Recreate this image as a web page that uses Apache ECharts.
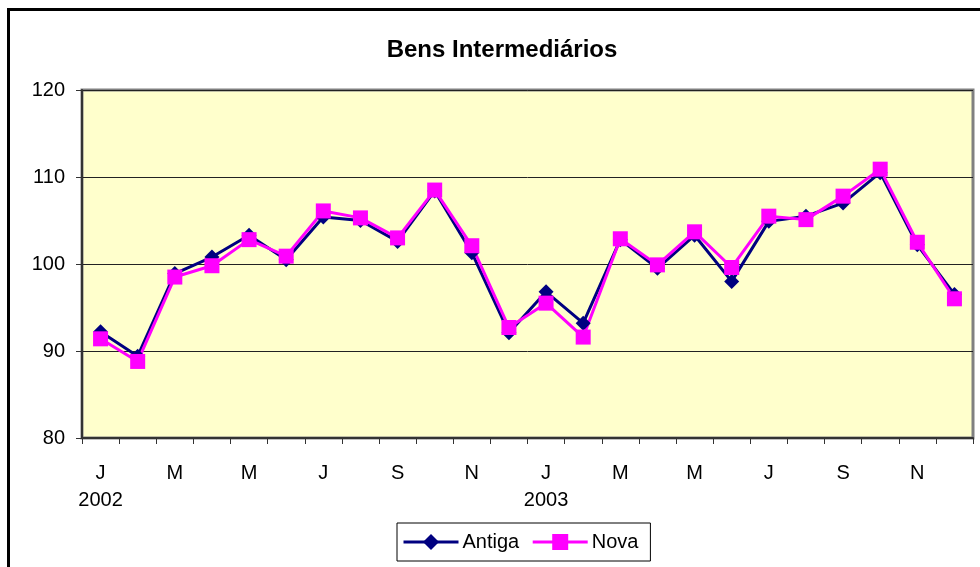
<!DOCTYPE html>
<html>
<head>
<meta charset="utf-8">
<script src="https://cdn.jsdelivr.net/npm/echarts@6/dist/echarts.min.js"></script>
<style>
  html, body { margin: 0; padding: 0; background: #fff; }
  #main { width: 980px; height: 567px; }
</style>
</head>
<body>
<div id="main"></div>
<script>
// month initials, two years
var months = ['J', 'F', 'M', 'A', 'M', 'J', 'J', 'A', 'S', 'O', 'N', 'D'];
var years = ['2002', '2003'];

var antiga = [92.2, 89.4, 98.9, 100.8, 103.3, 100.5, 105.4, 105.0, 102.6, 108.4, 101.3, 92.1,
              96.8, 93.2, 102.8, 99.5, 103.3, 98.0, 104.9, 105.5, 107.0, 110.5, 102.2, 96.5];
var nova = [91.4, 88.8, 98.5, 99.8, 102.8, 100.9, 106.1, 105.3, 103.0, 108.5, 102.1, 92.7,
            95.5, 91.6, 102.9, 99.9, 103.7, 99.6, 105.5, 105.1, 107.8, 110.9, 102.5, 96.0];

var yTicks = { min: 80, max: 120, step: 10 };

var categories = [];
years.forEach(function (y) {
  months.forEach(function (m, i) { categories.push(y + '-' + (i + 1) + '-' + m); });
});

var font = 'Liberation Sans, Arial, sans-serif';

var chart = echarts.init(document.getElementById('main'), null, { renderer: 'canvas' });

var option = {
  backgroundColor: '#ffffff',
  animation: false,
  title: {
    text: 'Bens Intermediários',
    left: 497,
    top: 33,
    textAlign: 'center',
    textStyle: { fontFamily: font, fontSize: 24, fontWeight: 'bold', color: '#000' }
  },
  legend: {
    data: ['Antiga', 'Nova'],
    left: 397,
    top: 523,
    orient: 'horizontal',
    borderColor: '#000',
    borderWidth: 1,
    padding: [9, 12, 9, 5],
    itemGap: 12,
    itemWidth: 55,
    itemHeight: 20,
    lineStyle: { width: 3 },
    textStyle: { fontFamily: font, fontSize: 20, color: '#000', padding: [0, 0, 0, -1] }
  },
  grid: {
    left: 82,
    right: 7,
    top: 90,
    bottom: 129,
    show: true,
    backgroundColor: '#FFFFCC',
    borderColor: '#808080',
    borderWidth: 3
  },
  xAxis: {
    type: 'category',
    data: categories,
    boundaryGap: true,
    axisLine: { lineStyle: { color: '#333', width: 2 } },
    axisTick: { show: true, interval: 0, length: 6, lineStyle: { color: '#333', width: 1 } },
    axisLabel: {
      interval: 1,
      margin: 22,
      fontFamily: font,
      fontSize: 20,
      lineHeight: 27,
      color: '#000',
      formatter: function (value, index) {
        var parts = value.split('-');
        if (index % 12 === 0) return parts[2] + '\n' + parts[0];
        return parts[2];
      }
    }
  },
  yAxis: {
    type: 'value',
    min: yTicks.min,
    max: yTicks.max,
    interval: yTicks.step,
    axisLine: { show: true, lineStyle: { color: '#333', width: 2 } },
    axisTick: { show: true, length: 6, lineStyle: { color: '#333', width: 1 } },
    axisLabel: { margin: 17, fontFamily: font, fontSize: 20, color: '#000' },
    splitLine: { show: true, lineStyle: { color: '#222', width: 1 } }
  },
  series: [
    {
      name: 'Antiga',
      type: 'line',
      data: antiga,
      symbol: 'diamond',
      symbolSize: 15,
      lineStyle: { color: '#000080', width: 3 },
      itemStyle: { color: '#000080' }
    },
    {
      name: 'Nova',
      type: 'line',
      data: nova,
      symbol: 'rect',
      symbolSize: 15,
      lineStyle: { color: '#FF00FF', width: 3 },
      itemStyle: { color: '#FF00FF' }
    }
  ],
  graphic: [{
    type: 'rect',
    shape: { x: 8.5, y: 9.5, width: 1000, height: 600 },
    style: { fill: 'none', stroke: '#000', lineWidth: 3 },
    silent: true,
    z: 100
  }]
};

chart.setOption(option);
</script>
</body>
</html>
